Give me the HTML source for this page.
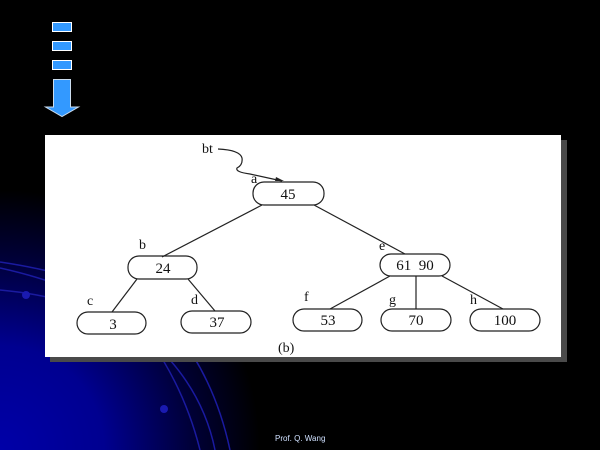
<!DOCTYPE html>
<html><head><style>
html,body{margin:0;padding:0;width:600px;height:450px;overflow:hidden;background:#000;}
svg{display:block}
text{font-family:"Liberation Serif",serif;fill:#111}
</style></head><body>
<svg width="600" height="450" viewBox="0 0 600 450">
<defs>
<radialGradient id="g" cx="0" cy="450" r="260" gradientUnits="userSpaceOnUse">
<stop offset="0" stop-color="#0000a8"/>
<stop offset="0.4" stop-color="#000090"/>
<stop offset="0.75" stop-color="#000035"/>
<stop offset="1" stop-color="#000"/>
</radialGradient>
</defs>
<rect width="600" height="450" fill="#000"/>
<rect width="600" height="450" fill="url(#g)"/>
<g fill="none" stroke="#1a1aa0" stroke-width="1.5">
<path d="M0 262 Q120 280 175 330 Q215 380 230 450"/>
<path d="M0 268 Q100 290 150 340 Q185 390 200 450"/>
<path d="M0 290 Q110 300 170 360 Q205 400 215 450"/>
</g>
<circle cx="26" cy="295" r="4" fill="#1a1ab0"/>
<circle cx="164" cy="409" r="4" fill="#1a1ab0"/>
<g fill="#3399ff" stroke="#fff" stroke-width="1">
<rect x="52.5" y="22.5" width="19" height="9"/>
<rect x="52.5" y="41.5" width="19" height="9"/>
<rect x="52.5" y="60.5" width="19" height="9"/>
<path d="M53.5 79.5 H70.5 V107 H78.5 L62 116.5 L45.5 107 H53.5 Z" stroke="#cde"/>
</g>
<rect x="50" y="140" width="517" height="222" fill="#4a4a4a"/>
<rect x="45" y="135" width="516" height="222" fill="#fff"/>
<g fill="none" stroke="#222" stroke-width="1.2">
<path d="M218 149 Q240 150 242 158 Q243 165 237 168 Q235 172 250 174 L282 181"/>
<line x1="262" y1="205" x2="162" y2="257"/>
<line x1="314" y1="205" x2="405" y2="254"/>
<line x1="137" y1="279" x2="112" y2="312"/>
<line x1="188" y1="279" x2="215" y2="311"/>
<line x1="390" y1="276" x2="330" y2="309"/>
<line x1="416" y1="276" x2="416" y2="309"/>
<line x1="442" y1="276" x2="503" y2="309"/>
<rect x="253" y="182" width="71" height="23" rx="11"/>
<rect x="128" y="256" width="69" height="23" rx="11"/>
<rect x="77" y="312" width="69" height="22" rx="11"/>
<rect x="181" y="311" width="70" height="22" rx="11"/>
<rect x="380" y="254" width="70" height="22" rx="11"/>
<rect x="293" y="309" width="69" height="22" rx="11"/>
<rect x="381" y="309" width="70" height="22" rx="11"/>
<rect x="470" y="309" width="70" height="22" rx="11"/>
</g>
<path d="M276 177 L284 181 L275 181 Z" fill="#222"/>
<g font-size="15" text-anchor="middle">
<text x="288" y="199">45</text>
<text x="163" y="273">24</text>
<text x="113" y="329">3</text>
<text x="217" y="327">37</text>
<text x="415" y="270">61&#160;&#160;90</text>
<text x="328" y="325">53</text>
<text x="416" y="325">70</text>
<text x="505" y="325">100</text>
</g>
<g font-size="14">
<text x="202" y="153">bt</text>
<text x="251" y="183">a</text>
<text x="139" y="249">b</text>
<text x="87" y="305">c</text>
<text x="191" y="304">d</text>
<text x="379" y="250">e</text>
<text x="304" y="301">f</text>
<text x="389" y="304">g</text>
<text x="470" y="304">h</text>
<text x="278" y="352">(b)</text>
</g>
<text x="275" y="441" font-size="8" style="font-family:'Liberation Sans',sans-serif;fill:#cfe0ff">Prof. Q. Wang</text>
</svg>
</body></html>
